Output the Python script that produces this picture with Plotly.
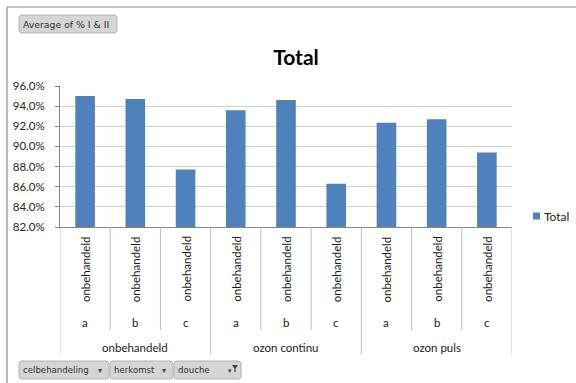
import plotly.graph_objects as go

# ---- data ----
celbehandeling = ["onbehandeld", "onbehandeld", "onbehandeld",
                  "ozon continu", "ozon continu", "ozon continu",
                  "ozon puls", "ozon puls", "ozon puls"]
herkomst = ["a", "b", "c", "a", "b", "c", "a", "b", "c"]
douche = ["onbehandeld"] * 9
values = [95.0, 94.7, 87.7, 93.6, 94.6, 86.3, 92.35, 92.7, 89.4]
series_name = "Total"
y_min, y_max, y_step = 82, 96, 2

# ---- geometry ----
W, H = 576, 383
L, R, T, B = 60, 64, 86, 156
PW, PH = W - L - R, H - T - B
FONT = "Lato"
BTN_FONT = "DejaVu Sans"


def fx(px):
    return (px - L) / PW


def fy(py):
    return (H - B - py) / PH


cats = [f"{g}|{h}|{d}" for g, h, d in zip(celbehandeling, herkomst, douche)]

fig = go.Figure()
fig.add_trace(go.Bar(
    x=cats, y=values, name=series_name,
    marker=dict(color="#4F81BD", line=dict(width=0)),
    showlegend=False,
))

shapes = []
annotations = []

# category axis labels (3 levels)
n = len(cats)
for i in range(n):
    annotations.append(dict(x=i, xref="x", y=fy(269), yref="paper", text=douche[i],
                            textangle=-90, showarrow=False, xanchor="center", yanchor="middle",
                            font=dict(family=FONT, size=11.5, color="#1a1a1a")))
    annotations.append(dict(x=i, xref="x", y=fy(322), yref="paper", text=herkomst[i],
                            showarrow=False, xanchor="center", yanchor="middle",
                            font=dict(family=FONT, size=11.5, color="#1a1a1a")))

# separators
for i in range(n + 1):
    pos = i - 0.5
    is_group = (i == 0 or i == n or celbehandeling[i] != celbehandeling[i - 1])
    y_end = 354 if is_group else 330
    shapes.append(dict(type="line", xref="x", yref="paper", x0=pos, x1=pos,
                       y0=0, y1=fy(y_end), line=dict(color="#BFBFBF", width=1)))

# group labels
groups = []
for i, g in enumerate(celbehandeling):
    if not groups or groups[-1][0] != g:
        groups.append([g, i, i])
    else:
        groups[-1][2] = i
for g, a, b in groups:
    annotations.append(dict(x=(a + b) / 2, xref="x", y=fy(347), yref="paper", text=g,
                            showarrow=False, xanchor="center", yanchor="middle",
                            font=dict(family=FONT, size=11.5, color="#1a1a1a")))

# outer frame
shapes.append(dict(type="line", xref="paper", yref="paper", x0=fx(7), x1=fx(7),
                   y0=fy(7), y1=fy(390), line=dict(color="#8C8C8C", width=1.2)))
shapes.append(dict(type="line", xref="paper", yref="paper", x0=fx(7), x1=fx(580),
                   y0=fy(7), y1=fy(7), line=dict(color="#8C8C8C", width=1.2)))


def rounded(x0, y0, x1, y1, r=3):
    p = [
        f"M {fx(x0 + r)},{fy(y0)}",
        f"L {fx(x1 - r)},{fy(y0)}",
        f"Q {fx(x1)},{fy(y0)} {fx(x1)},{fy(y0 + r)}",
        f"L {fx(x1)},{fy(y1 - r)}",
        f"Q {fx(x1)},{fy(y1)} {fx(x1 - r)},{fy(y1)}",
        f"L {fx(x0 + r)},{fy(y1)}",
        f"Q {fx(x0)},{fy(y1)} {fx(x0)},{fy(y1 - r)}",
        f"L {fx(x0)},{fy(y0 + r)}",
        f"Q {fx(x0)},{fy(y0)} {fx(x0 + r)},{fy(y0)}",
        "Z",
    ]
    return " ".join(p)


def button(x0, y0, x1, y1, label, tx, size):
    shapes.append(dict(type="path", xref="paper", yref="paper", path=rounded(x0, y0, x1, y1),
                       fillcolor="#D5D5D5", line=dict(color="#B3B3B3", width=1), layer="above"))
    annotations.append(dict(x=fx(tx), xref="paper", y=fy((y0 + y1) / 2), yref="paper", text=label,
                            showarrow=False, xanchor="left", yanchor="middle",
                            font=dict(family=BTN_FONT, size=size, color="#333333")))


button(19, 15, 117, 33, "Average of % I &amp; II", 21, 9.3)
button(19, 361, 109, 379, "celbehandeling", 21, 8.6)
button(110, 361, 173, 379, "herkomst", 112, 8.6)
button(174, 361, 241, 379, "douche", 176, 8.6)

# dropdown arrows
for ax in (100, 164):
    annotations.append(dict(x=fx(ax), xref="paper", y=fy(370), yref="paper", text="▾",
                            showarrow=False, xanchor="center", yanchor="middle",
                            font=dict(family="DejaVu Sans", size=8, color="#444444")))
annotations.append(dict(x=fx(230), xref="paper", y=fy(371), yref="paper", text="▾",
                        showarrow=False, xanchor="center", yanchor="middle",
                        font=dict(family="DejaVu Sans", size=7, color="#444444")))
shapes.append(dict(type="path", xref="paper", yref="paper",
                   path=f"M {fx(232)},{fy(365)} L {fx(238)},{fy(365)} L {fx(235.6)},{fy(368.5)} "
                        f"L {fx(235.6)},{fy(372)} L {fx(234.4)},{fy(372)} L {fx(234.4)},{fy(368.5)} Z",
                   fillcolor="#444444", line=dict(width=0), layer="above"))

# legend (manual)
shapes.append(dict(type="rect", xref="paper", yref="paper", x0=fx(533), x1=fx(540),
                   y0=fy(212.5), y1=fy(219.5), fillcolor="#4F81BD", line=dict(width=0)))
annotations.append(dict(x=fx(541.5), xref="paper", y=fy(216), yref="paper", text=series_name,
                        showarrow=False, xanchor="left", yanchor="middle",
                        font=dict(family=FONT, size=12, color="#1a1a1a")))

fig.update_layout(
    width=W, height=H,
    margin=dict(l=L, r=R, t=T, b=B),
    paper_bgcolor="white", plot_bgcolor="white",
    title=dict(text="<b>Total</b>", x=296 / W, xanchor="center", xref="container",
               y=1 - 57.5 / H, yanchor="middle", yref="container",
               font=dict(family=FONT, size=21, color="#000000")),
    bargap=0.61,
    shapes=shapes,
    annotations=annotations,
    showlegend=False,
    font=dict(family=FONT),
)
fig.update_xaxes(
    type="category", categoryorder="array", categoryarray=cats,
    range=[-0.5, n - 0.5], showticklabels=False, ticks="",
    showline=True, linecolor="#868686", linewidth=1, showgrid=False, zeroline=False,
    fixedrange=True,
)
fig.update_yaxes(
    range=[y_min, y_max], dtick=y_step, tick0=y_min, tickformat=".1f", ticksuffix="%",
    showgrid=True, gridcolor="#D0D0D0", gridwidth=1,
    showline=True, linecolor="#868686", linewidth=1,
    ticks="outside", ticklen=4, tickcolor="#868686",
    ticklabelstandoff=8,
    tickfont=dict(family=FONT, size=11.5, color="#262626"),
    zeroline=False, fixedrange=True,
)

fig.write_html("out.html", config={"displayModeBar": False})
